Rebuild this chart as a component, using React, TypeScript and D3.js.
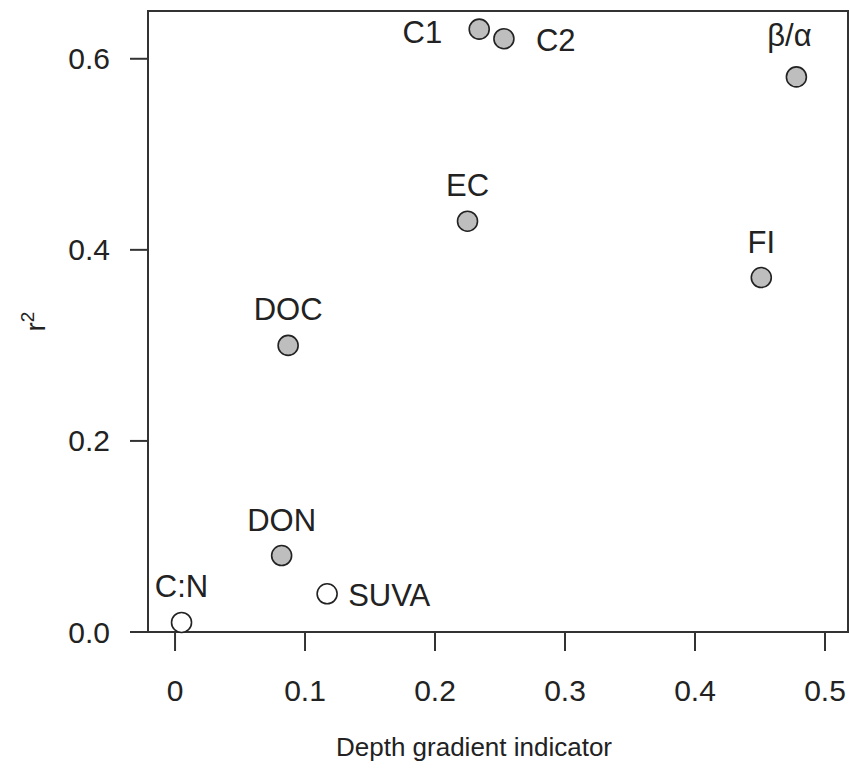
import React from "react";
import * as d3 from "d3";

const labels = ["C1", "C2", "β/α", "EC", "FI", "DOC", "DON", "SUVA", "C:N"];
const xValues = [0.234, 0.253, 0.478, 0.225, 0.451, 0.087, 0.082, 0.117, 0.005];
const yValues = [0.631, 0.621, 0.581, 0.43, 0.371, 0.3, 0.08, 0.04, 0.01];
const filled = [true, true, true, true, true, true, true, false, false];
// R-style label position: 2 = left, 3 = above, 4 = right
const labelPos = [2, 4, 3, 3, 3, 3, 3, 4, 3];

const xTicks = [0, 0.1, 0.2, 0.3, 0.4, 0.5];
const yTicks = [0, 0.2, 0.4, 0.6];
const xTitle = "Depth gradient indicator";

const W = 850;
const H = 769;
const FONT = "'Liberation Sans', Arial, sans-serif";

export default function App() {
  const x = d3.scaleLinear().domain([-0.0208, 0.5177]).range([148, 848]);
  const y = d3.scaleLinear().domain([0, 0.65]).range([632, 11]);
  const [x0, x1] = x.range();
  const [yb, yt] = y.range();
  const fmtX = (v: number) => (v === 0 ? "0" : d3.format(".1f")(v));
  const fmtY = d3.format(".1f");

  return (
    <div style={{ position: "absolute", left: 0, top: 0 }}>
      <svg width={W} height={H} style={{ display: "block", background: "#fff" }} fontFamily={FONT}>
        <rect x={x0} y={yt} width={x1 - x0} height={yb - yt} fill="none" stroke="#333" strokeWidth={2} />
        {xTicks.map((t) => (
          <g key={"xt" + t}>
            <line x1={x(t)} x2={x(t)} y1={yb} y2={yb + 19} stroke="#333" strokeWidth={2} />
            <text x={x(t)} y={701} textAnchor="middle" fontSize={30} fill="#222">
              {fmtX(t)}
            </text>
          </g>
        ))}
        {yTicks.map((t) => (
          <g key={"yt" + t}>
            <line x1={x0 - 18} x2={x0} y1={y(t)} y2={y(t)} stroke="#333" strokeWidth={2} />
            <text x={110} y={y(t)} dy="0.35em" textAnchor="end" fontSize={30} fill="#222">
              {fmtY(t)}
            </text>
          </g>
        ))}
        <text x={474} y={756} textAnchor="middle" fontSize={26} fill="#222">
          {xTitle}
        </text>
        <text transform={`translate(45, ${(yt + yb) / 2}) rotate(-90)`} textAnchor="middle" fontSize={28} fill="#222">
          r<tspan fontSize={19} dy={-11}>2</tspan>
        </text>
        {labels.map((lab, i) => {
          const cx = x(xValues[i]);
          const cy = y(yValues[i]);
          return (
            <g key={lab}>
              <circle cx={cx} cy={cy} r={10} fill={filled[i] ? "#bebebe" : "#fff"} stroke="#222" strokeWidth={1.6} />
            </g>
          );
        })}
        {labels.map((lab, i) => {
          const cx = x(xValues[i]);
          const cy = y(yValues[i]);
          const p = labelPos[i];
          let tx = cx;
          let ty = cy - 25;
          let anchor = "middle";
          if (p === 2) {
            tx = cx - 37;
            ty = cy + 14;
            anchor = "end";
          } else if (p === 4) {
            tx = cx + (lab === "C2" ? 32 : 21);
            ty = cy + 12;
            anchor = "start";
          }
          if (lab === "β/α") {
            tx = cx - 7;
            ty = cy - 31;
          }
          return (
            <text key={"l" + lab} x={tx} y={ty} textAnchor={anchor} fontSize={31} fill="#222">
              {lab}
            </text>
          );
        })}
      </svg>
    </div>
  );
}
